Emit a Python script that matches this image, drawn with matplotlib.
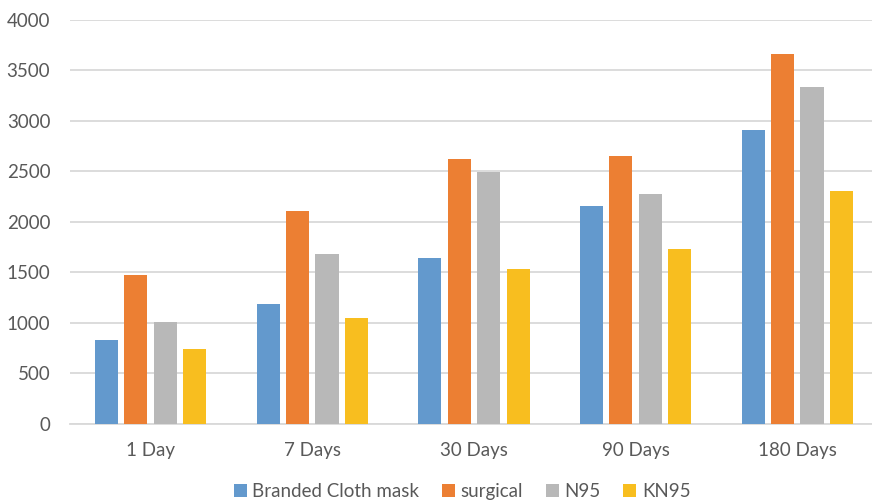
import numpy as np
import matplotlib.pyplot as plt

plt.rcParams['font.family'] = ['Lato', 'DejaVu Sans']

periods = ['1 Day', '7 Days', '30 Days', '90 Days', '180 Days']
cloth = [826, 1185, 1638, 2152, 2908]
surgical = [1469, 2109, 2624, 2650, 3660]
n95 = [1007, 1676, 2489, 2271, 3334]
kn95 = [737, 1044, 1535, 1730, 2300]

series = [
    ('Branded Cloth mask', cloth, '#6399CD'),
    ('surgical', surgical, '#EC7F33'),
    ('N95', n95, '#B8B8B8'),
    ('KN95', kn95, '#F8BE1F'),
]

text_color = '#595959'
grid_color = '#D9D9D9'

fig = plt.figure(figsize=(8.72, 5.03), dpi=100)
# plot area runs a little past the right edge of the figure
ax = fig.add_axes([0.080, 0.158, 0.927, 0.803])

x = np.arange(len(periods))
step = 0.182
width = 0.143
for i, (name, vals, color) in enumerate(series):
    offset = (i - 1.5) * step
    ax.bar(x + offset, vals, width, color=color, label=name, zorder=3)

ax.set_xlim(-0.5, len(periods) - 0.5)
ax.set_ylim(0, 4000)
ax.set_yticks(np.arange(0, 4001, 500))
ax.set_xticks(x)
ax.set_xticklabels(periods)

ax.yaxis.grid(True, color=grid_color, linewidth=1.3, zorder=0)
for side in ['top', 'right', 'left']:
    ax.spines[side].set_visible(False)
ax.spines['bottom'].set_color(grid_color)
ax.spines['bottom'].set_linewidth(1.3)

ax.tick_params(axis='both', length=0, colors=text_color, labelsize=13.5)
ax.tick_params(axis='y', pad=14)
ax.tick_params(axis='x', pad=13)

fig.legend(loc='center left', bbox_to_anchor=(0.268, 0.022), ncol=4, frameon=False,
           fontsize=13.5, labelcolor=text_color, handlelength=0.7,
           handleheight=0.7, handletextpad=0.3, columnspacing=1.2,
           borderaxespad=0, borderpad=0)

fig.savefig('out.png', dpi=100)
